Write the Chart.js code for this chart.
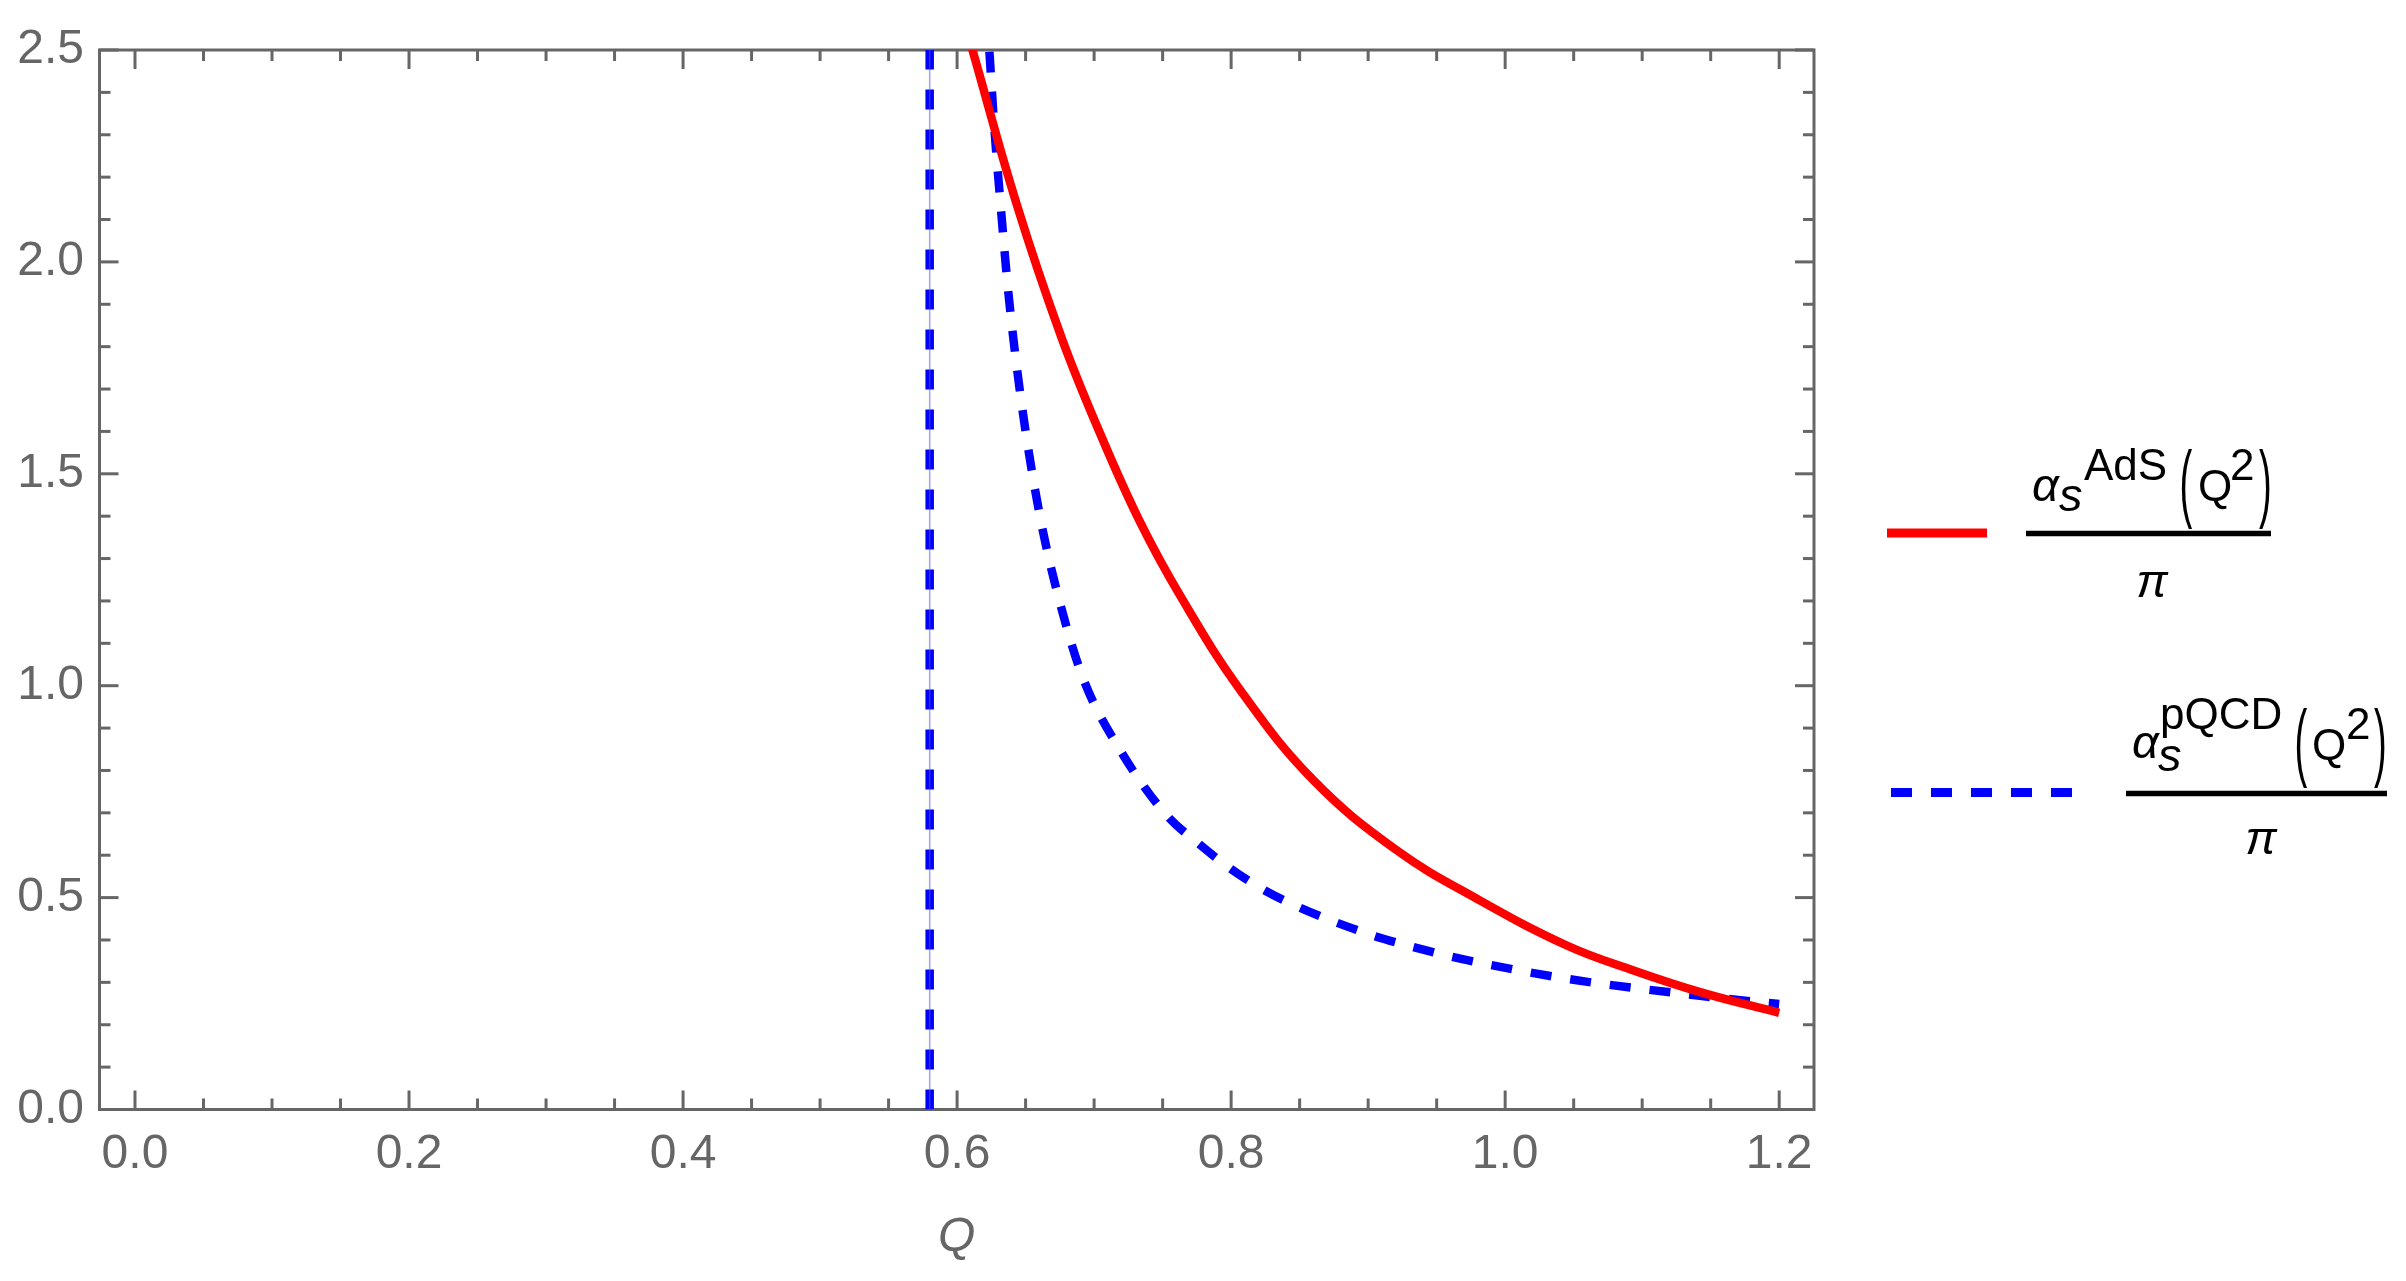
<!DOCTYPE html>
<html>
<head>
<meta charset="utf-8">
<script src="https://cdn.jsdelivr.net/npm/chart.js@4.4.0/dist/chart.umd.min.js"></script>
<style>
  html, body { margin: 0; padding: 0; background: #fff; }
  #wrap { width: 2406px; height: 1281px; position: relative; }
</style>
</head>
<body>
<div id="wrap"><canvas id="chart"></canvas></div>
<script>
// values
const qAdS = [0.6107, 0.6436, 0.6764, 0.7044, 0.7336, 0.764, 0.8066, 0.8601, 0.921, 0.9793, 1.045, 1.0937, 1.1423, 1.2];
const alphaAdS = [2.506, 2.135, 1.820, 1.595, 1.386, 1.206, 0.990, 0.7767, 0.6114, 0.4974, 0.387, 0.328, 0.277, 0.228];

const qPQCD = [0.6236, 0.6272, 0.6319, 0.637, 0.6436, 0.6516, 0.6618, 0.6752, 0.692, 0.719, 0.753, 0.7749, 0.798, 0.8224, 0.849, 0.903, 0.931, 0.960, 0.988, 1.017, 1.046, 1.074, 1.1035, 1.133, 1.162, 1.2];
const alphaPQCD = [2.496, 2.316, 2.129, 1.941, 1.751, 1.566, 1.378, 1.194, 1.017, 0.848, 0.694, 0.631, 0.572, 0.521, 0.478, 0.411, 0.385, 0.361, 0.342, 0.324, 0.308, 0.295, 0.283, 0.272, 0.261, 0.249];

// Landau pole of the pQCD coupling
const poleQ = 0.58;
const poleRange = [0, 2.5];

const xTicks = [0, 0.2, 0.4, 0.6, 0.8, 1.0, 1.2];
const xMinorTicks = [0.05, 0.1, 0.15, 0.25, 0.3, 0.35, 0.45, 0.5, 0.55, 0.65, 0.7, 0.75, 0.85, 0.9, 0.95, 1.05, 1.1, 1.15];
const yTicks = [0, 0.5, 1.0, 1.5, 2.0, 2.5];
const yMinorTicks = [0.1, 0.2, 0.3, 0.4, 0.6, 0.7, 0.8, 0.9, 1.1, 1.2, 1.3, 1.4, 1.6, 1.7, 1.8, 1.9, 2.1, 2.2, 2.3, 2.4];

const FONT = '"Liberation Sans", Arial, sans-serif';
const GRAY = '#666666';

const toPoints = (xs, ys) => xs.map((x, i) => ({ x: x, y: ys[i] }));

// Mathematica style frame with inward ticks on all four sides
const frameTicks = {
  id: 'frameTicks',
  beforeDatasetsDraw(chart) {
    const { ctx, chartArea: a, scales: { x, y } } = chart;
    ctx.save();
    ctx.strokeStyle = GRAY;
    ctx.lineWidth = 3;
    ctx.strokeRect(a.left, a.top, a.right - a.left, a.bottom - a.top);
    const tick = (x1, y1, x2, y2) => { ctx.beginPath(); ctx.moveTo(x1, y1); ctx.lineTo(x2, y2); ctx.stroke(); };
    const xt = (list, len) => list.forEach(v => {
      const px = x.getPixelForValue(v);
      tick(px, a.bottom, px, a.bottom - len);
      tick(px, a.top, px, a.top + len);
    });
    const yt = (list, len) => list.forEach(v => {
      const py = y.getPixelForValue(v);
      tick(a.left, py, a.left + len, py);
      tick(a.right, py, a.right - len, py);
    });
    xt(xTicks, 19); xt(xMinorTicks, 11);
    yt(yTicks, 19); yt(yMinorTicks, 11);
    ctx.restore();
  }
};

function paren(ctx, ch, x, baseline) {
  ctx.save();
  ctx.translate(x, baseline);
  ctx.scale(0.45, 1);
  ctx.font = '85px ' + FONT;
  ctx.fillText(ch, 0, 0);
  ctx.restore();
}

function text(ctx, str, x, baseline, font, align) {
  ctx.font = font;
  ctx.textAlign = align || 'left';
  ctx.fillText(str, x, baseline);
}

const fractionLegend = {
  id: 'fractionLegend',
  afterDraw(chart) {
    const ctx = chart.ctx;
    ctx.save();
    ctx.textBaseline = 'alphabetic';
    ctx.lineCap = 'butt';

    // red sample
    ctx.strokeStyle = '#ff0000';
    ctx.lineWidth = 9;
    ctx.beginPath(); ctx.moveTo(1887, 533); ctx.lineTo(1987, 533); ctx.stroke();
    // blue dashed sample
    ctx.strokeStyle = '#0000ff';
    ctx.setLineDash([21, 19]);
    ctx.beginPath(); ctx.moveTo(1891, 792.5); ctx.lineTo(2072, 792.5); ctx.stroke();
    ctx.setLineDash([]);

    ctx.fillStyle = '#000';
    ctx.strokeStyle = '#000';
    ctx.lineWidth = 5.5;
    const it = 'italic 47px ' + FONT;
    const up = '44px ' + FONT;

    // alpha_s^AdS(Q^2) / pi
    ctx.beginPath(); ctx.moveTo(2026, 533.5); ctx.lineTo(2271, 533.5); ctx.stroke();
    text(ctx, 'α', 2032, 501, it);
    text(ctx, 's', 2059, 511, it);
    text(ctx, 'AdS', 2084, 480, up);
    paren(ctx, '(', 2179.5, 511);
    text(ctx, 'Q', 2198, 501, up);
    text(ctx, '2', 2230, 480, up);
    paren(ctx, ')', 2259, 511);
    text(ctx, 'π', 2152, 597, it, 'center');

    // alpha_s^pQCD(Q^2) / pi
    ctx.beginPath(); ctx.moveTo(2126, 793.5); ctx.lineTo(2387, 793.5); ctx.stroke();
    text(ctx, 'α', 2132, 758, it);
    text(ctx, 's', 2158, 771, it);
    text(ctx, 'pQCD', 2160, 729, up);
    paren(ctx, '(', 2294.5, 770);
    text(ctx, 'Q', 2312, 760, up);
    text(ctx, '2', 2346, 739, up);
    paren(ctx, ')', 2374, 770);
    text(ctx, 'π', 2261, 854, it, 'center');

    ctx.restore();
  }
};

new Chart(document.getElementById('chart'), {
  type: 'line',
  data: {
    datasets: [
      {
        label: 'αs AdS(Q²)/π',
        data: toPoints(qAdS, alphaAdS),
        borderColor: '#ff0000',
        borderWidth: 8.5,
        pointRadius: 0,
        tension: 0.4,
        fill: false
      },
      {
        label: 'αs pQCD(Q²)/π',
        data: toPoints(qPQCD, alphaPQCD),
        borderColor: '#0000ff',
        borderWidth: 8.5,
        borderDash: [21, 19],
        pointRadius: 0,
        cubicInterpolationMode: 'monotone',
        fill: false
      },
      {
        label: 'pole',
        data: toPoints([poleQ, poleQ], poleRange),
        borderColor: 'rgba(80, 80, 255, 0.55)',
        borderWidth: 1.5,
        pointRadius: 0,
        fill: false
      },
      {
        label: 'pole dashed',
        data: toPoints([poleQ, poleQ], poleRange),
        borderColor: '#0000ff',
        borderWidth: 8.5,
        borderDash: [20, 20],
        pointRadius: 0,
        fill: false
      }
    ]
  },
  options: {
    responsive: true,
    maintainAspectRatio: false,
    devicePixelRatio: 1,
    animation: false,
    layout: { padding: { top: 50, right: 592, left: 0, bottom: 0 } },
    plugins: {
      legend: { display: false },
      tooltip: { enabled: false }
    },
    scales: {
      x: {
        type: 'linear',
        min: -0.0259,
        max: 1.2254,
        afterBuildTicks: s => { s.ticks = xTicks.map(v => ({ value: v })); },
        afterFit: s => { s.height = 171.5; },
        grid: { display: false, drawTicks: false },
        border: { display: false },
        ticks: {
          color: GRAY,
          font: { family: FONT, size: 48 },
          padding: 16,
          autoSkip: false,
          maxRotation: 0,
          callback: v => Number(v).toFixed(1)
        },
        title: {
          display: true,
          text: 'Q',
          color: GRAY,
          font: { family: FONT, size: 48, style: 'italic' },
          padding: { top: 0, bottom: 15 }
        }
      },
      y: {
        type: 'linear',
        min: 0,
        max: 2.5,
        afterBuildTicks: s => { s.ticks = yTicks.map(v => ({ value: v })); },
        afterFit: s => { s.width = 99.5; },
        grid: { display: false, drawTicks: false },
        border: { display: false },
        ticks: {
          color: GRAY,
          font: { family: FONT, size: 48 },
          padding: 15.5,
          autoSkip: false,
          callback: v => Number(v).toFixed(1)
        }
      }
    }
  },
  plugins: [frameTicks, fractionLegend]
});
</script>
</body>
</html>
